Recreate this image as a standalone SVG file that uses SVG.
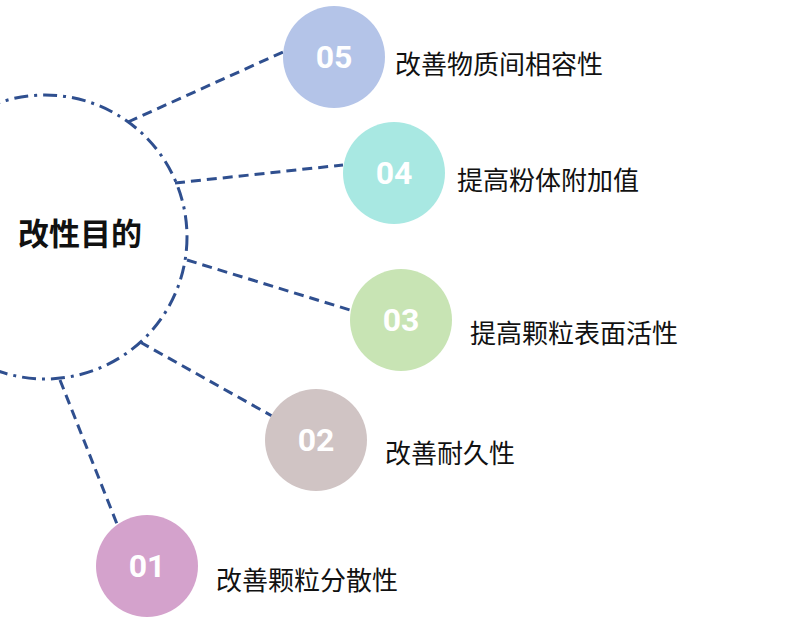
<svg xmlns="http://www.w3.org/2000/svg" width="800" height="622" viewBox="0 0 800 622">
<style>
.c{stroke:#2f4f8f;stroke-width:3;fill:none;stroke-dasharray:10 6}
.num{font-family:Roboto,"Noto Sans",sans-serif;font-weight:bold;font-size:32px;fill:#fff;text-anchor:middle}
.lbl{font-family:"Noto Sans CJK SC",sans-serif;font-size:26px;fill:#111}
</style>
<rect width="800" height="622" fill="#fff"/>
<g id="center">
<circle cx="45" cy="237" r="142" fill="none" stroke="#2f4f8f" stroke-width="3" stroke-dasharray="14 6 3 6"/>
<text x="18" y="245" font-family="'Noto Sans CJK SC',sans-serif" font-weight="bold" font-size="31" fill="#111">改性目的</text>
</g>
<g id="connectors">
<line class="c" x1="128" y1="122" x2="283" y2="52"/>
<line class="c" x1="175" y1="183" x2="343" y2="165"/>
<line class="c" x1="187" y1="260" x2="350" y2="310"/>
<line class="c" x1="140" y1="342" x2="272" y2="416"/>
<line class="c" x1="60" y1="380" x2="117" y2="524"/>
</g>
<g id="n05"><circle cx="334" cy="57" r="51" fill="#b4c4e8"/><text class="num" x="334" y="68">05</text><text class="lbl" x="395" y="74">改善物质间相容性</text></g>
<g id="n04"><circle cx="394" cy="173" r="51" fill="#a8e8e2"/><text class="num" x="394" y="184">04</text><text class="lbl" x="457" y="190">提高粉体附加值</text></g>
<g id="n03"><circle cx="401" cy="320" r="51" fill="#c8e4b4"/><text class="num" x="401" y="331">03</text><text class="lbl" x="470" y="343">提高颗粒表面活性</text></g>
<g id="n02"><circle cx="316" cy="440" r="51" fill="#d0c4c4"/><text class="num" x="316" y="451">02</text><text class="lbl" x="385" y="463">改善耐久性</text></g>
<g id="n01"><circle cx="147" cy="566" r="51" fill="#d4a2cc"/><text class="num" x="147" y="577">01</text><text class="lbl" x="216" y="590">改善颗粒分散性</text></g>
</svg>
